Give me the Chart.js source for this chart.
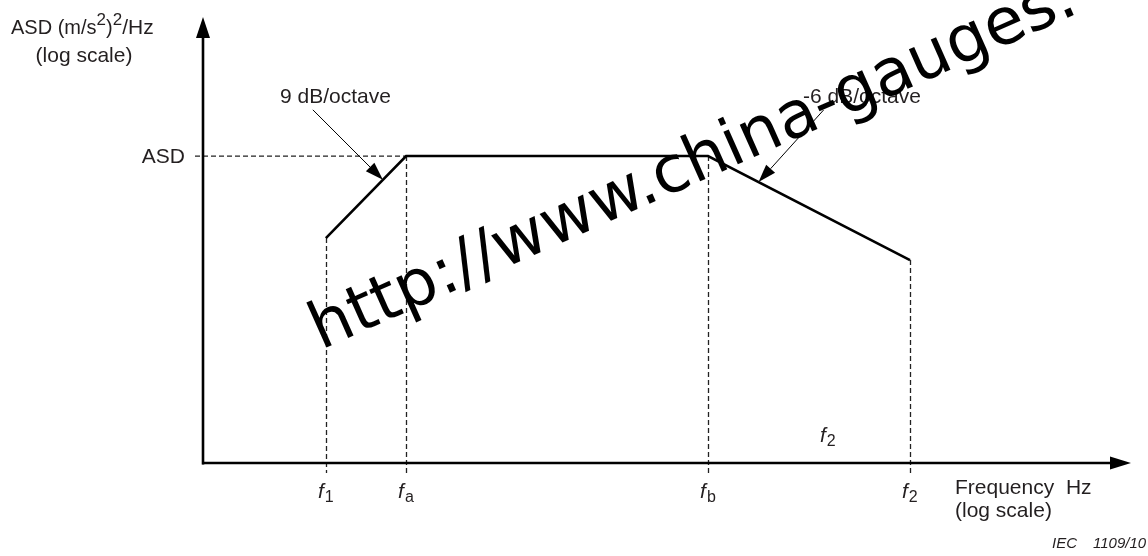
<!DOCTYPE html>
<html>
<head>
<meta charset="utf-8">
<script src="https://cdn.jsdelivr.net/npm/chart.js@4.4.0/dist/chart.umd.min.js"></script>
<style>
  html, body { margin: 0; padding: 0; background: #fff; }
  canvas { display: block; }
</style>
</head>
<body>
<canvas id="asd-chart" width="1148" height="556"></canvas>
<script>
// Dados do perfil ASD (eixos logarítmicos)
const frequencies = [18.4, 27.4, 122.6, 334];
const asdLevels = [0.292, 1, 1, 0.21];
const freqTickNames = ['1', 'a', 'b', '2'];
const slopeLabels = ['9 dB/octave', '-6 dB/octave'];
const asdLabel = 'ASD';

const FONT = '"Liberation Sans", Arial, Helvetica, sans-serif';
const TEXT_COLOR = '#231f20';

// Desenha um rótulo "f" itálico com subíndice
function drawFreqLabel(ctx, x, y, sub) {
  ctx.font = 'italic 21px ' + FONT;
  ctx.textAlign = 'left';
  ctx.textBaseline = 'alphabetic';
  ctx.fillText('f', x, y);
  const w = ctx.measureText('f').width;
  ctx.font = '16px ' + FONT;
  ctx.fillText(sub, x + w + 1, y + 4);
}

// Seta com ponta preenchida
function drawArrow(ctx, x1, y1, x2, y2, head, half, width) {
  const ang = Math.atan2(y2 - y1, x2 - x1);
  const bx = x2 - head * Math.cos(ang);
  const by = y2 - head * Math.sin(ang);
  ctx.beginPath();
  ctx.lineWidth = width;
  ctx.moveTo(x1, y1);
  ctx.lineTo(bx, by);
  ctx.stroke();
  ctx.beginPath();
  ctx.moveTo(x2, y2);
  ctx.lineTo(bx + half * Math.sin(ang), by - half * Math.cos(ang));
  ctx.lineTo(bx - half * Math.sin(ang), by + half * Math.cos(ang));
  ctx.closePath();
  ctx.fill();
}

// Ponto numa fração de um segmento do perfil (em pixels)
function pointOnSegment(xs, ys, i, t) {
  const xa = xs.getPixelForValue(frequencies[i]);
  const ya = ys.getPixelForValue(asdLevels[i]);
  const xb = xs.getPixelForValue(frequencies[i + 1]);
  const yb = ys.getPixelForValue(asdLevels[i + 1]);
  return { x: xa + (xb - xa) * t, y: ya + (yb - ya) * t };
}

// Plugin: linhas tracejadas, eixos com setas, textos e marca d'água
const schematicPlugin = {
  id: 'schematic',
  beforeDatasetsDraw(chart) {
    const ctx = chart.ctx;
    const xs = chart.scales.x;
    const ys = chart.scales.y;
    const area = chart.chartArea;
    ctx.save();
    ctx.strokeStyle = '#222';
    ctx.lineWidth = 1.3;
    ctx.setLineDash([5, 3]);
    // linha horizontal do nível ASD
    const yAsd = ys.getPixelForValue(asdLevels[1]);
    ctx.beginPath();
    ctx.moveTo(area.left - 8, yAsd);
    ctx.lineTo(xs.getPixelForValue(frequencies[1]), yAsd);
    ctx.stroke();
    // linhas verticais em cada frequência
    frequencies.forEach((f, i) => {
      const x = Math.round(xs.getPixelForValue(f)) + 0.5;
      ctx.beginPath();
      ctx.moveTo(x, ys.getPixelForValue(asdLevels[i]));
      ctx.lineTo(x, area.bottom + 10);
      ctx.stroke();
    });
    ctx.restore();
  },
  afterDraw(chart) {
    const ctx = chart.ctx;
    const xs = chart.scales.x;
    const ys = chart.scales.y;
    const area = chart.chartArea;
    ctx.save();
    ctx.strokeStyle = '#000';
    ctx.fillStyle = '#000';
    ctx.setLineDash([]);

    // eixos
    drawArrow(ctx, area.left, area.bottom + 1.5, area.left, area.top, 21, 7, 2.6);
    drawArrow(ctx, area.left - 1, area.bottom, area.right, area.bottom, 21, 6.5, 2.6);

    // setas de inclinação
    const tipA = pointOnSegment(xs, ys, 0, 0.71);
    drawArrow(ctx, tipA.x - 70, tipA.y - 70, tipA.x, tipA.y, 18, 6, 1);
    const tipB = pointOnSegment(xs, ys, 2, 0.25);
    drawArrow(ctx, tipB.x + 65, tipB.y - 72, tipB.x, tipB.y, 18, 6, 1);

    // textos
    ctx.fillStyle = TEXT_COLOR;
    ctx.textBaseline = 'alphabetic';
    ctx.textAlign = 'left';

    // título do eixo y com expoentes
    let x = 11;
    const parts = [['ASD (m/s', 20, 0], ['2', 17, -9], [')', 20, 0], ['2', 17, -9], ['/Hz', 21, 0]];
    parts.forEach(p => {
      ctx.font = p[1] + 'px ' + FONT;
      ctx.fillText(p[0], x, 34 + p[2]);
      x += ctx.measureText(p[0]).width;
    });
    ctx.font = '21px ' + FONT;
    ctx.textAlign = 'center';
    ctx.fillText('(log scale)', 84, 62);

    // rótulo ASD
    ctx.textAlign = 'right';
    ctx.textBaseline = 'middle';
    ctx.fillText(asdLabel, 185, ys.getPixelForValue(asdLevels[1]) + 1);

    // rótulos de inclinação
    ctx.textAlign = 'left';
    ctx.textBaseline = 'alphabetic';
    ctx.fillText(slopeLabels[0], 280, 103);
    ctx.fillText(slopeLabels[1], 803, 103);

    // rótulos das frequências
    frequencies.forEach((f, i) => {
      drawFreqLabel(ctx, xs.getPixelForValue(f) - 8, area.bottom + 35, freqTickNames[i]);
    });
    drawFreqLabel(ctx, 820, 442, '2');

    // título do eixo x
    ctx.font = '21px ' + FONT;
    ctx.fillText('Frequency  Hz', 955, 494);
    ctx.fillText('(log scale)', 955, 517);

    ctx.font = 'italic 15px ' + FONT;
    ctx.fillText('IEC', 1052, 548);
    ctx.fillText('1109/10', 1093, 548);

    // marca d'água
    ctx.fillStyle = '#000';
    ctx.translate(321, 350);
    ctx.rotate(-24 * Math.PI / 180);
    ctx.font = '65px "DejaVu Sans", Verdana, sans-serif';
    ctx.fillText('http://www.china-gauges.', 0, 0);
    ctx.restore();
  }
};

function initChart() {
  const ctx = document.getElementById('asd-chart').getContext('2d');
  const chart = new Chart(ctx, {
    type: 'scatter',
    data: {
      datasets: [{
        label: 'ASD',
        data: frequencies.map((f, i) => ({ x: f, y: asdLevels[i] })),
        showLine: true,
        borderColor: '#000',
        borderWidth: 2.6,
        pointRadius: 0,
        tension: 0,
        clip: false
      }]
    },
    options: {
      responsive: false,
      animation: false,
      devicePixelRatio: 1,
      layout: { padding: { left: 203, right: 17, top: 17, bottom: 93 } },
      plugins: { legend: { display: false }, tooltip: { enabled: false } },
      scales: {
        x: { type: 'logarithmic', min: 10, max: 1000, bounds: 'data', display: false },
        y: { type: 'logarithmic', min: 0.01, max: 8.05, bounds: 'data', display: false }
      }
    },
    plugins: [schematicPlugin]
  });
  window.asdChart = chart;
}

initChart();
</script>
</body>
</html>
